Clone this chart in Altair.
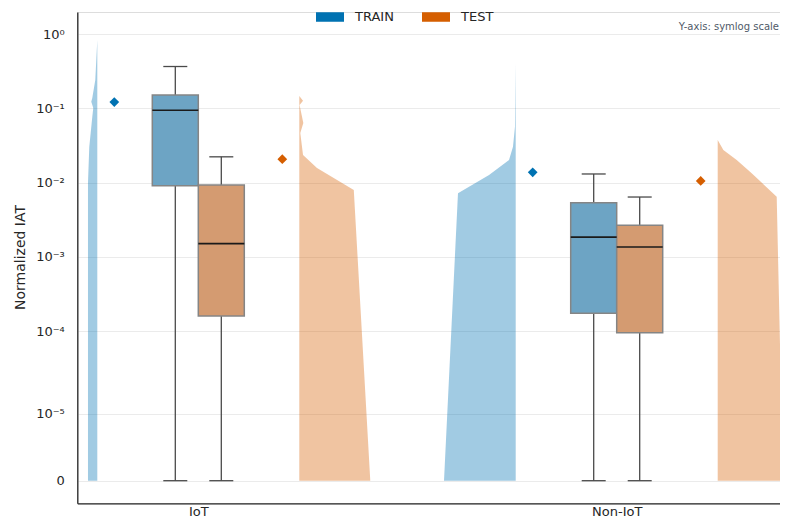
import math
import altair as alt
import pandas as pd

# ---------------- data ----------------
categories = ["IoT", "Non-IoT"]
splits = ["TRAIN", "TEST"]

# box statistics per category [IoT, Non-IoT]
train_low = [0.0, 0.0]
train_q1 = [0.00908, 0.000174]
train_median = [0.0946, 0.00185]
train_q3 = [0.152, 0.00536]
train_high = [0.367, 0.0131]
train_mean = [0.122, 0.0138]

test_low = [0.0, 0.0]
test_q1 = [0.000160, 0.0000955]
test_median = [0.00151, 0.00136]
test_q3 = [0.0093, 0.00267]
test_high = [0.0223, 0.00641]
test_mean = [0.0207, 0.01054]

# half-violin outlines: IAT value and relative density (half width)
iot_train_iat = [0.835, 0.242, 0.138, 0.123, 0.1014, 0.0767, 0.0303, 0.0099, 0.0]
iot_train_density = [0.0, 0.028, 0.070, 0.084, 0.056, 0.070, 0.112, 0.130, 0.130]
iot_test_iat = [0.147, 0.127, 0.111, 0.0637, 0.0467, 0.0236, 0.0158, 0.00798, 0.0]
iot_test_density = [0.0, 0.052, 0.004, 0.056, 0.014, 0.052, 0.247, 0.760, 0.990]
noniot_train_iat = [0.409, 0.0568, 0.0305, 0.0202, 0.0127, 0.00719, 0.0]
noniot_train_density = [0.0, 0.010, 0.038, 0.093, 0.372, 0.805, 1.0]
noniot_test_iat = [0.0376, 0.0276, 0.0202, 0.0134, 0.00648, 0.0]
noniot_test_density = [0.0, 0.079, 0.265, 0.474, 0.823, 0.911]

y_tick_values = [0, 1e-5, 1e-4, 1e-3, 1e-2, 1e-1, 1]
y_tick_labels = ["0", "10\u207b\u2075", "10\u207b\u2074", "10\u207b\u00b3",
                 "10\u207b\u00b2", "10\u207b\u00b9", "10\u2070"]
note_text = "Y-axis: symlog scale"

# ---------------- styling ----------------
split_colors = ["#0072B2", "#D55E00"]
box_fills = ["#6da4c4", "#d49b71"]
FONT = "DejaVu Sans"
LINTHRESH = 1.22e-5
LINSCALE = 1.1


def symlog(v):
    if v < LINTHRESH:
        return v / LINTHRESH * LINSCALE
    return LINSCALE + math.log10(v / LINTHRESH)


SYMLOG_EXPR = (f"datum.{{f}} < {LINTHRESH} ? datum.{{f}} / {LINTHRESH} * {LINSCALE} : "
               f"{LINSCALE} + log(datum.{{f}} / {LINTHRESH}) / LN10")


def sl(field):
    return SYMLOG_EXPR.format(f=field)


# ---------------- tables ----------------
box_rows = []
stats = {
    "TRAIN": (train_low, train_q1, train_median, train_q3, train_high, train_mean),
    "TEST": (test_low, test_q1, test_median, test_q3, test_high, test_mean),
}
for ci, cat in enumerate(categories):
    for si, sp in enumerate(splits):
        lo, q1, med, q3, hi, mn = (s[ci] for s in stats[sp])
        box_rows.append(dict(cat=ci, split=sp, side=(-1 if si == 0 else 1),
                             low=lo, q1=q1, med=med, q3=q3, high=hi, mean=mn,
                             fillc=box_fills[si]))
boxes = pd.DataFrame(box_rows)

violin_sets = [
    (0, "TRAIN", iot_train_iat, iot_train_density),
    (0, "TEST", iot_test_iat, iot_test_density),
    (1, "TRAIN", noniot_train_iat, noniot_train_density),
    (1, "TEST", noniot_test_iat, noniot_test_density),
]
vrows = []
for ci, sp, vals, dens in violin_sets:
    si = splits.index(sp)
    for v, d in zip(vals, dens):
        vrows.append(dict(cat=ci, split=sp, side=(-1 if si == 0 else 1), v=v, d=d,
                          grp=f"{categories[ci]}-{sp}", vcol=split_colors[si]))
violins = pd.DataFrame(vrows)

# ---------------- scales / axes ----------------
PX_PER_UNIT = 418.4
W = 702.7
H = 491.3
TOTAL_H = 512
x_lo = -121.0 / PX_PER_UNIT
x_hi = x_lo + W / PX_PER_UNIT
y_px_per_dec = 74.25
y_lo = -22.6 / y_px_per_dec
y_hi = y_lo + H / y_px_per_dec

xscale = alt.Scale(domain=[x_lo, x_hi], nice=False, zero=False)
yscale = alt.Scale(domain=[y_lo, y_hi], nice=False, zero=False)

label_expr_y = " : ".join(
    f"abs(datum.value - {symlog(v):.5f}) < 0.01 ? '{lab}'" for v, lab in zip(y_tick_values, y_tick_labels)
) + " : ''"
label_expr_x = " : ".join(
    f"abs(datum.value - {i}) < 0.01 ? '{c}'" for i, c in enumerate(categories)
) + " : ''"

xaxis = alt.Axis(values=list(range(len(categories))), labelExpr=label_expr_x, title=None,
                 grid=False, ticks=False, domain=True, domainColor="#262626", domainWidth=1.3,
                 labelFontSize=13, labelColor="#262626", labelFont=FONT, labelPadding=2)
yaxis = alt.Axis(values=[symlog(v) for v in y_tick_values], labelExpr=label_expr_y,
                 title="Normalized IAT", titleFontSize=14, titleFont=FONT, titleColor="#262626",
                 titleFontWeight="normal", titleX=-57, titleY=245, titleAngle=-90,
                 titleAlign="center", titleBaseline="middle",
                 grid=True, gridColor="#ebebeb", gridWidth=1, ticks=False, domain=True,
                 domainColor="#262626", domainWidth=1.3, labelFontSize=13, labelColor="#262626",
                 labelFont=FONT, labelPadding=13)


def X(field):
    return alt.X(f"{field}:Q", scale=xscale, axis=xaxis)


def Y(field):
    return alt.Y(f"{field}:Q", scale=yscale, axis=yaxis)


# ---------------- layers ----------------
violin_layer = alt.Chart(violins).transform_calculate(
    t=sl("v"),
    base=f"datum.cat + datum.side * {101.0 / PX_PER_UNIT}",
    edge=f"datum.cat + datum.side * {101.0 / PX_PER_UNIT} + datum.side * datum.d * {71.7 / PX_PER_UNIT}",
).mark_area(orient="horizontal", opacity=0.37, interpolate="linear").encode(
    y=Y("t"), x=X("edge"), x2="base:Q", detail="grp:N",
    fill=alt.Fill("vcol:N", scale=None),
)

half = 23.0 / PX_PER_UNIT
cap = 12.0 / PX_PER_UNIT
base_box = alt.Chart(boxes).transform_calculate(
    t_low=sl("low"), t_q1=sl("q1"), t_med=sl("med"), t_q3=sl("q3"),
    t_high=sl("high"), t_mean=sl("mean"),
    xc=f"datum.cat + datum.side * {half}",
    xl=f"datum.cat + datum.side * {half} - {half}",
    xr=f"datum.cat + datum.side * {half} + {half}",
    cl=f"datum.cat + datum.side * {half} - {cap}",
    cr=f"datum.cat + datum.side * {half} + {cap}",
    xm=f"datum.cat + datum.side * {84.0 / PX_PER_UNIT}",
)

whisker = base_box.mark_rule(color="#4a4a4a", strokeWidth=1.3).encode(
    x=X("xc"), y=Y("t_low"), y2="t_high:Q")
cap_low = base_box.mark_rule(color="#4a4a4a", strokeWidth=1.3).encode(
    x=X("cl"), x2="cr:Q", y=Y("t_low"))
cap_high = base_box.mark_rule(color="#4a4a4a", strokeWidth=1.3).encode(
    x=X("cl"), x2="cr:Q", y=Y("t_high"))
box = base_box.mark_bar(stroke="#858585", strokeWidth=1.5, opacity=1).encode(
    x=X("xl"), x2="xr:Q", y=Y("t_q1"), y2="t_q3:Q",
    fill=alt.Fill("fillc:N", scale=None))
median = base_box.mark_rule(color="#1a1a1a", strokeWidth=1.6).encode(
    x=X("xl"), x2="xr:Q", y=Y("t_med"))
means = base_box.mark_point(shape="diamond", filled=True, size=95, opacity=1).encode(
    x=X("xm"), y=Y("t_mean"),
    color=alt.Color("split:N", scale=alt.Scale(domain=splits, range=split_colors),
                    legend=alt.Legend(orient="none", direction="horizontal", title=None,
                                      legendX=238.7, legendY=-9,
                                      symbolType="M-1,-0.34H1V0.34H-1Z", symbolSize=784,
                                      symbolStrokeWidth=0, symbolOpacity=1,
                                      labelFontSize=13, labelFont=FONT, labelColor="#262626",
                                      labelOffset=11, columnPadding=28, padding=0)),
)

note = alt.Chart(pd.DataFrame({"note": [note_text]})).mark_text(
    align="right", baseline="middle", fontSize=10, font=FONT, color="#4f5a68"
).encode(x=alt.value(W - 1), y=alt.value(15.3), text="note:N")

chart = alt.layer(violin_layer, whisker, cap_low, cap_high, box, median, means, note).properties(
    width=W, height=H,
    autosize=alt.AutoSizeParams(type="none"),
    padding={"left": 69.3, "top": 4, "right": 0, "bottom": TOTAL_H - 4 - H},
).configure_view(stroke=None).configure(font=FONT)

chart.save("out.html", embed_options={"renderer": "svg", "actions": False})
